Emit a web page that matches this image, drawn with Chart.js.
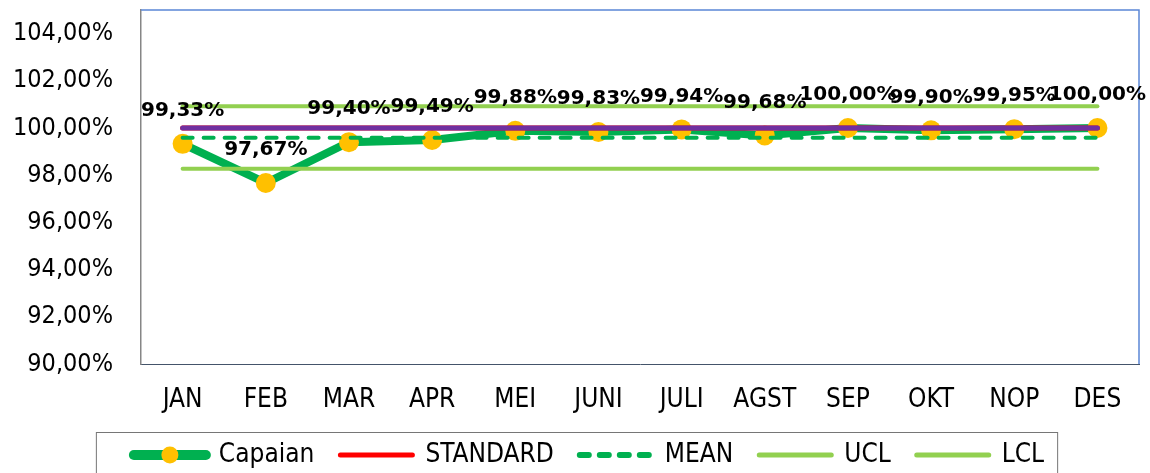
<!DOCTYPE html>
<html>
<head>
<meta charset="utf-8">
<script src="https://cdn.jsdelivr.net/npm/chart.js@4.4.1/dist/chart.umd.min.js"></script>
<style>
  html, body { margin: 0; padding: 0; background: #fff; }
  #wrap { width: 1150px; height: 473px; }
</style>
</head>
<body>
<div id="wrap"><canvas id="capaianChart"></canvas></div>
<script>
const months = ['JAN', 'FEB', 'MAR', 'APR', 'MEI', 'JUNI', 'JULI', 'AGST', 'SEP', 'OKT', 'NOP', 'DES'];
const capaian = [99.33, 97.67, 99.40, 99.49, 99.88, 99.83, 99.94, 99.68, 100.00, 99.90, 99.95, 100.00];
const standard = [100, 100, 100, 100, 100, 100, 100, 100, 100, 100, 100, 100];
const target = [100, 100, 100, 100, 100, 100, 100, 100, 100, 100, 100, 100];
const mean = [99.59, 99.59, 99.59, 99.59, 99.59, 99.59, 99.59, 99.59, 99.59, 99.59, 99.59, 99.59];
const ucl = [100.92, 100.92, 100.92, 100.92, 100.92, 100.92, 100.92, 100.92, 100.92, 100.92, 100.92, 100.92];
const lcl = [98.27, 98.27, 98.27, 98.27, 98.27, 98.27, 98.27, 98.27, 98.27, 98.27, 98.27, 98.27];
const yTicks = [90, 92, 94, 96, 98, 100, 102, 104];

const narrow = '"DejaVu Sans Condensed", "DejaVu Sans", sans-serif';
const pct = v => v.toFixed(2).replace('.', ',') + '%';

// blue frame on top and right of the plot area
const framePlugin = {
  id: 'frame',
  beforeDatasetsDraw(chart) {
    const { ctx, chartArea: a } = chart;
    ctx.save();
    ctx.strokeStyle = '#5b87d6';
    ctx.lineWidth = 1.5;
    ctx.beginPath();
    ctx.moveTo(a.left, a.top);
    ctx.lineTo(a.right, a.top);
    ctx.lineTo(a.right, a.bottom);
    ctx.stroke();
    ctx.restore();
  }
};

// value labels above the Capaian points
const valueLabels = {
  id: 'valueLabels',
  afterDatasetsDraw(chart) {
    const { ctx } = chart;
    const meta = chart.getDatasetMeta(0);
    ctx.save();
    ctx.font = 'bold 20px "DejaVu Sans", sans-serif';
    ctx.fillStyle = '#000';
    ctx.textAlign = 'center';
    ctx.textBaseline = 'middle';
    meta.data.forEach((pt, i) => {
      ctx.fillText(pct(capaian[i]), pt.x, pt.y - 33);
    });
    ctx.restore();
  }
};

// legend: nudge right, then border box + marker dot on the Capaian sample
const legendExtras = {
  id: 'legendExtras',
  afterLayout(chart) {
    const lg = chart.legend;
    if (!lg) return;
    lg.left += 26;
    lg.legendHitBoxes.forEach(h => { h.left += 13; });
  },
  afterDraw(chart) {
    const lg = chart.legend;
    if (!lg || !lg.legendHitBoxes.length) return;
    const { ctx } = chart;
    const boxes = lg.legendHitBoxes;
    const first = boxes[0];
    const last = boxes[boxes.length - 1];
    const cy = first.top + first.height / 2;
    ctx.save();
    ctx.strokeStyle = '#767676';
    ctx.lineWidth = 1;
    ctx.strokeRect(first.left - 37.5, cy - 22.5, last.left + last.width - first.left + 51, 60);
    ctx.fillStyle = '#FFC000';
    ctx.beginPath();
    ctx.arc(first.left + 36, cy, 8.5, 0, Math.PI * 2);
    ctx.fill();
    ctx.restore();
  }
};

const ctx = document.getElementById('capaianChart').getContext('2d');
new Chart(ctx, {
  type: 'line',
  data: {
    labels: months,
    datasets: [
      { label: 'Capaian', data: capaian, borderColor: '#00B050', borderWidth: 8, borderCapStyle: 'round', borderJoinStyle: 'round',
        pointRadius: 10, pointBackgroundColor: '#FFC000', pointBorderWidth: 0, order: 5 },
      { label: 'STANDARD', data: standard, borderColor: '#FF0000', borderWidth: 5, borderCapStyle: 'round', pointRadius: 0, order: 2 },
      { label: 'MEAN', data: mean, borderColor: '#00B050', borderWidth: 4, borderDash: [10, 11], borderCapStyle: 'round', pointRadius: 0, order: 1 },
      { label: 'UCL', data: ucl, borderColor: '#92D050', borderWidth: 4, borderCapStyle: 'round', pointRadius: 0, order: 3 },
      { label: 'LCL', data: lcl, borderColor: '#92D050', borderWidth: 4, borderCapStyle: 'round', pointRadius: 0, order: 3 },
      { label: 'TARGET', data: target, borderColor: '#7030A0', borderWidth: 5, borderCapStyle: 'round', pointRadius: 0, order: 0 }
    ]
  },
  options: {
    responsive: true,
    maintainAspectRatio: false,
    animation: false,
    layout: { padding: { top: 2, left: 13, right: 11, bottom: -5 } },
    scales: {
      x: {
        offset: true,
        afterFit: scale => { scale.height = 52; },
        grid: { display: false, drawTicks: false },
        border: { display: true, color: '#44546A', width: 1 },
        ticks: { color: '#000', padding: 21, font: { family: narrow, size: 26 } }
      },
      y: {
        min: 90,
        max: 105,
        afterBuildTicks: scale => { scale.ticks = yTicks.map(v => ({ value: v })); },
        grid: { color: 'transparent', drawTicks: true, tickLength: 28, tickColor: 'transparent' },
        border: { display: true, color: '#868686', width: 1.5 },
        ticks: { color: '#000', padding: 0, font: { family: narrow, size: 25, lineHeight: 0.5 }, callback: v => pct(v) }
      }
    },
    plugins: {
      tooltip: { enabled: false },
      legend: {
        position: 'bottom',
        labels: {
          color: '#000',
          font: { family: narrow, size: 26 },
          usePointStyle: true,
          pointStyle: 'line',
          pointStyleWidth: 72,
          padding: 26,
          filter: item => item.text !== 'TARGET',
          sort: (a, b) => a.datasetIndex - b.datasetIndex,
          generateLabels: chart => {
            const items = Chart.defaults.plugins.legend.labels.generateLabels(chart);
            items.forEach(it => {
              it.lineCap = 'round';
              if (it.datasetIndex === 0) it.lineWidth = 10;
              if (it.datasetIndex === 1) it.lineWidth = 5;
              if (it.datasetIndex === 2) { it.lineWidth = 6; it.lineDash = [9, 11]; }
              if (it.datasetIndex >= 3) it.lineWidth = 5;
            });
            return items;
          }
        }
      }
    }
  },
  plugins: [framePlugin, valueLabels, legendExtras]
});
</script>
</body>
</html>
